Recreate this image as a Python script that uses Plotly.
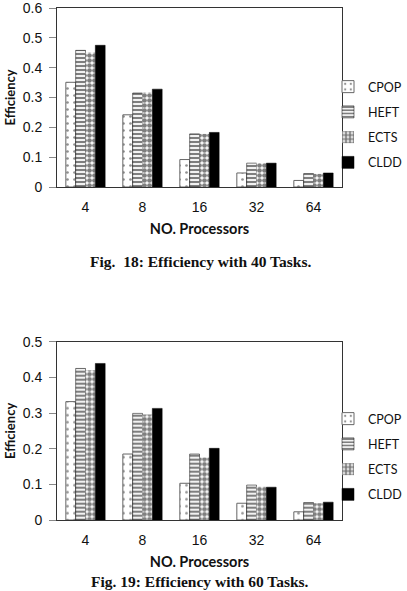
import plotly.graph_objects as go

W, H = 407, 591

processors = ["4", "8", "16", "32", "64"]
series_names = ["CPOP", "HEFT", "ECTS", "CLDD"]

# Fig. 18: Efficiency with 40 Tasks
eff40_cpop = [0.351, 0.242, 0.092, 0.047, 0.022]
eff40_heft = [0.458, 0.315, 0.178, 0.080, 0.045]
eff40_ects = [0.451, 0.317, 0.178, 0.080, 0.044]
eff40_cldd = [0.475, 0.328, 0.183, 0.080, 0.047]

# Fig. 19: Efficiency with 60 Tasks
eff60_cpop = [0.332, 0.185, 0.103, 0.047, 0.023]
eff60_heft = [0.425, 0.299, 0.185, 0.098, 0.049]
eff60_ects = [0.420, 0.296, 0.175, 0.093, 0.047]
eff60_cldd = [0.439, 0.313, 0.201, 0.092, 0.050]

y_ticks_top = [0, 0.1, 0.2, 0.3, 0.4, 0.5, 0.6]
y_ticks_bot = [0, 0.1, 0.2, 0.3, 0.4, 0.5]

captions = ["Fig.\u00a0 18: Efficiency with 40 Tasks.", "Fig. 19: Efficiency with 60 Tasks."]

styles = {
    "CPOP": dict(color="white", pattern=dict(shape=".", fgcolor="#222", bgcolor="white", size=7, solidity=0.12),
                 line=dict(color="#666", width=1)),
    "HEFT": dict(color="white", pattern=dict(shape="-", fgcolor="black", bgcolor="white", size=4, solidity=0.55),
                 line=dict(color="black", width=0.5)),
    "ECTS": dict(color="white", pattern=dict(shape=".", fgcolor="black", bgcolor="white", size=5, solidity=0.7),
                 line=dict(color="black", width=0)),
    "CLDD": dict(color="black", line=dict(color="black", width=0.5)),
}

def px_x(p):
    return p / W

def px_y(p):
    return 1 - p / H

fig = go.Figure()

data_top = [eff40_cpop, eff40_heft, eff40_ects, eff40_cldd]
data_bot = [eff60_cpop, eff60_heft, eff60_ects, eff60_cldd]

for name, vals in zip(series_names, data_top):
    fig.add_trace(go.Bar(x=processors, y=vals, name=name, marker=styles[name],
                         xaxis="x", yaxis="y", legend="legend", legendgroup="a" + name))
for name, vals in zip(series_names, data_bot):
    fig.add_trace(go.Bar(x=processors, y=vals, name=name, marker=styles[name],
                         xaxis="x2", yaxis="y2", legend="legend2", legendgroup="b" + name))

tick_font = dict(family="Liberation Sans, Arial, sans-serif", size=14, color="#111")
ytitle_font = dict(family="Lato, Open Sans, sans-serif", size=13, color="#111")
xtitle_font = dict(family="Lato, Open Sans, sans-serif", size=14.5, color="#111")
legend_font = dict(family="Lato, Open Sans, sans-serif", size=12.5, color="#111")

xaxis_common = dict(type="category", showline=True, mirror=True, linecolor="#333", linewidth=1,
                    ticks="", tickfont=tick_font, showgrid=False, zeroline=False,
                    ticklabelstandoff=7,
                    title=dict(text="<b>NO. Processors</b>", font=xtitle_font, standoff=10),
                    automargin=False, fixedrange=True)
yaxis_common = dict(showline=True, mirror=True, linecolor="#333", linewidth=1,
                    ticks="outside", ticklen=7, tickcolor="#888", tickfont=tick_font,
                    showgrid=False, zeroline=False, dtick=0.1, ticklabelstandoff=4,
                    ticklabeloverflow="allow",
                    title=dict(text="<b>Efficiency</b>", font=ytitle_font, standoff=4),
                    automargin=False, fixedrange=True)

fig.update_layout(
    width=W, height=H,
    margin=dict(l=0, r=0, t=0, b=0),
    paper_bgcolor="white", plot_bgcolor="white",
    barmode="group", bargap=0.31, bargroupgap=0,
    xaxis=dict(xaxis_common, domain=[px_x(57), px_x(342)], anchor="y"),
    yaxis=dict(yaxis_common, domain=[px_y(187), px_y(8)], range=[0, 0.6], anchor="x",
               tickvals=y_ticks_top),
    xaxis2=dict(xaxis_common, domain=[px_x(57), px_x(342)], anchor="y2"),
    yaxis2=dict(yaxis_common, domain=[px_y(520), px_y(341.7)], range=[0, 0.5], anchor="x2",
                tickvals=y_ticks_bot),
    legend=dict(x=1, y=px_y(72), xanchor="right", yanchor="top", font=legend_font,
                tracegroupgap=6, traceorder="grouped", bgcolor="rgba(0,0,0,0)", itemwidth=30),
    legend2=dict(x=1, y=px_y(404), xanchor="right", yanchor="top", font=legend_font,
                 tracegroupgap=6, traceorder="grouped", bgcolor="rgba(0,0,0,0)", itemwidth=30),
    annotations=[
        dict(text="<b>" + captions[0] + "</b>", x=px_x(200), y=px_y(261), xref="paper", yref="paper",
             showarrow=False, xanchor="center", yanchor="middle",
             font=dict(family="Liberation Serif, Times New Roman, serif", size=15.5, color="#111")),
        dict(text="<b>" + captions[1] + "</b>", x=px_x(200), y=px_y(581), xref="paper", yref="paper",
             showarrow=False, xanchor="center", yanchor="middle",
             font=dict(family="Liberation Serif, Times New Roman, serif", size=15.5, color="#111")),
    ],
)

fig.write_html("out.html")
